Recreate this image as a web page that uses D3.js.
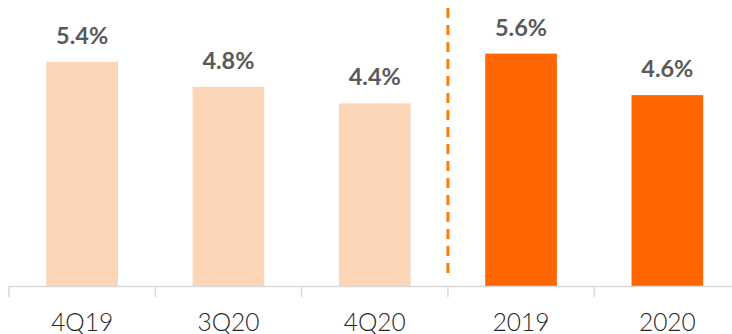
<!DOCTYPE html>
<html>
<head>
<meta charset="utf-8">
<script src="https://cdn.jsdelivr.net/npm/d3@7"></script>
<style>
  html, body { margin: 0; padding: 0; background: #fff; }
  svg { display: block; }
</style>
</head>
<body>
<svg id="chart" width="732" height="334"></svg>
<script>
// Period labels and rates (%)
const categories = ["4Q19", "3Q20", "4Q20", "2019", "2020"];
const values = [5.4, 4.8, 4.4, 5.6, 4.6];
const groups = ["quarter", "quarter", "quarter", "year", "year"];

const svg = d3.select("#chart");
const W = 732, H = 334;
const baseY = 286;
const left = 9;
const band = 146.3;

const x = d3.scaleBand()
  .domain(categories)
  .range([left, left + band * categories.length])
  .paddingInner(0.51)
  .paddingOuter(0.255);

const y = d3.scaleLinear().domain([0, 6]).range([baseY, baseY - 41.5 * 6]);

const color = d3.scaleOrdinal().domain(["quarter", "year"]).range(["#FBD5B5", "#FF6600"]);

// Bars
svg.selectAll("rect.bar")
  .data(categories)
  .join("rect")
  .attr("class", "bar")
  .attr("x", d => x(d))
  .attr("width", x.bandwidth())
  .attr("y", (d, i) => y(values[i]))
  .attr("height", (d, i) => y(0) - y(values[i]))
  .attr("fill", (d, i) => color(groups[i]));

// Axis baseline with tick marks at band edges
const axis = svg.append("g");
axis.append("line")
  .attr("x1", left).attr("x2", W)
  .attr("y1", baseY + 0.5).attr("y2", baseY + 0.5)
  .attr("stroke", "#D9D9D9").attr("stroke-width", 1.5);
const edges = d3.range(categories.length + 1).map(i => left + band * i);
axis.selectAll("line.tick")
  .data(edges)
  .join("line")
  .attr("class", "tick")
  .attr("x1", d => d).attr("x2", d => d)
  .attr("y1", baseY).attr("y2", baseY + 11)
  .attr("stroke", "#D9D9D9").attr("stroke-width", 1.5);

// Category labels
svg.selectAll("text.cat")
  .data(categories)
  .join("text")
  .attr("class", "cat")
  .attr("x", d => x(d) + x.bandwidth() / 2)
  .attr("y", 331)
  .attr("text-anchor", "middle")
  .attr("font-family", "Lato, 'Open Sans', sans-serif")
  .attr("font-weight", 300)
  .attr("font-size", 24.5)
  .attr("fill", "#262626")
  .text(d => d);

// Value labels
svg.selectAll("text.val")
  .data(categories)
  .join("text")
  .attr("class", "val")
  .attr("x", d => x(d) + x.bandwidth() / 2)
  .attr("y", (d, i) => y(values[i]) - 18)
  .attr("text-anchor", "middle")
  .attr("font-family", "Lato, 'Open Sans', sans-serif")
  .attr("font-weight", 700)
  .attr("font-size", 23.5)
  .attr("fill", "#595959")
  .text((d, i) => values[i].toFixed(1) + "%");

// Divider between quarterly and annual figures
const divX = left + band * 3;
svg.append("line")
  .attr("x1", divX).attr("x2", divX)
  .attr("y1", 8).attr("y2", 278)
  .attr("stroke", "#FF7F00")
  .attr("stroke-width", 3)
  .attr("stroke-dasharray", "10,7");
</script>
</body>
</html>
